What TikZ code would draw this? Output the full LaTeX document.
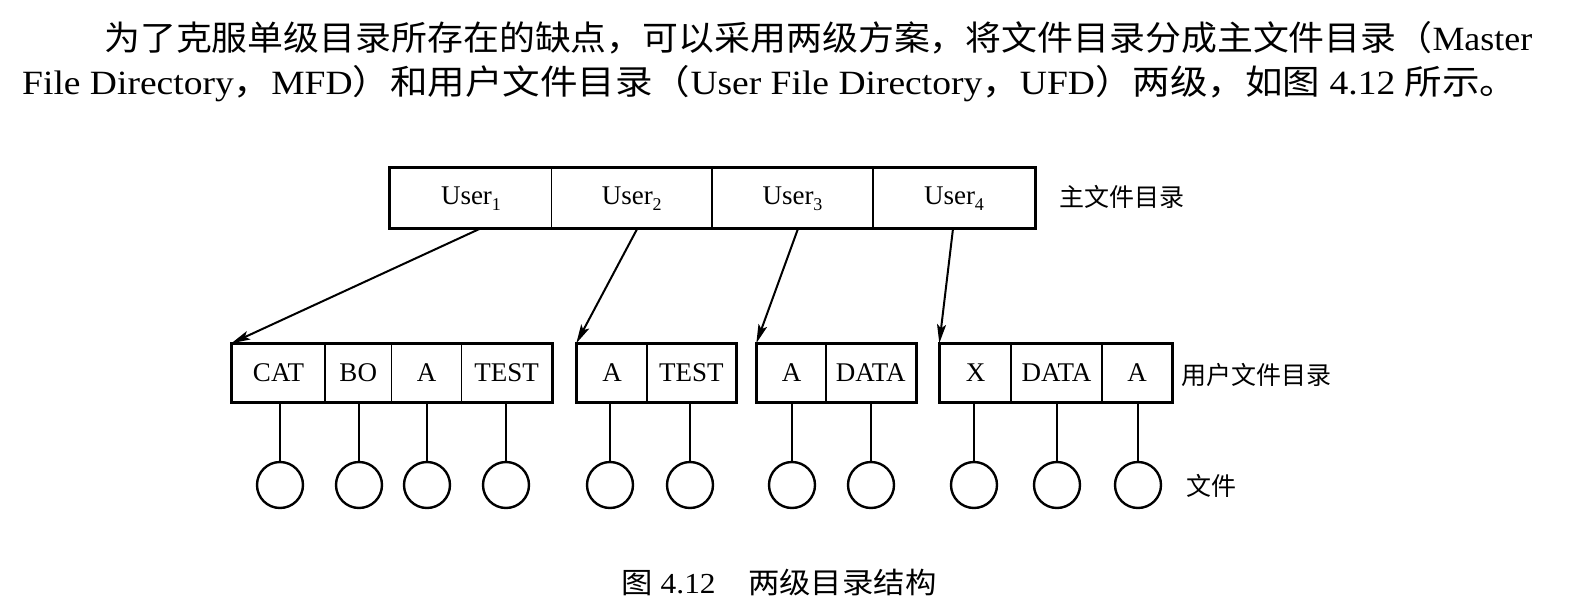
\documentclass[tikz,border=0pt]{standalone}
\usepackage{fontspec}
\setmainfont{Liberation Serif}
\newfontfamily\cjk{Noto Sans CJK SC}
\usetikzlibrary{arrows.meta,calc}
\newcommand\usub[1]{\raisebox{-6pt}{\fontsize{18}{20}\selectfont #1}}
\tikzset{
  cell/.style={draw=black, line width=1.4pt, inner sep=0pt, minimum height=58pt,
    font=\fontsize{27}{30}\selectfont},
  ucell/.style={draw=black, line width=1.4pt, inner sep=0pt, minimum height=59.5pt,
    font=\fontsize{27}{30}\selectfont},
  outer/.style={draw=black, line width=3pt},
  file/.style={circle, draw=black, line width=2.4pt, minimum size=46pt, inner sep=0pt},
  link/.style={draw=black, line width=1.8pt},
  ptr/.style={draw=black, line width=2pt, -{Stealth[length=19pt,width=9pt,inset=4pt]}},
  cjklabel/.style={anchor=west, inner sep=0pt, font=\cjk\fontsize{25}{30}\selectfont},
}
\begin{document}
\begin{tikzpicture}[x=1pt,y=-1pt]
\useasboundingbox[fill=white] (0,0) rectangle (1596,610);

% header text
\node[anchor=west, inner sep=0pt] (h1) at (104,38)
  {\fontsize{34}{40}\selectfont\resizebox{1428pt}{\height}{\cjk 为了克服单级目录所存在的缺点，可以采用两级方案，将文件目录分成主文件目录（\rmfamily Master}};
\node[anchor=west, inner sep=0pt] (h2) at (22,84)
  {\fontsize{34}{40}\selectfont\resizebox{1495pt}{\height}{File Directory{\cjk ，}MFD{\cjk ）和用户文件目录（}User File Directory{\cjk ，}UFD{\cjk ）两级，如图} 4.12 {\cjk 所示。}}};

% master file directory
\node[ucell, minimum width=161pt] (u1) at (471,198.25) {User\usub{1}};
\node[ucell, minimum width=160.5pt] (u2) at (631.75,198.25) {User\usub{2}};
\node[ucell, minimum width=161pt] (u3) at (792.5,198.25) {User\usub{3}};
\node[ucell, minimum width=162pt] (u4) at (954,198.25) {User\usub{4}};
\draw[outer] (u1.north west) rectangle (u4.south east);
\node[cjklabel] (mfd) at (1059,197) {主文件目录};

% user file directories
\node[cell, minimum width=93pt]   (a1) at (278.5,373) {CAT};
\node[cell, minimum width=66.5pt] (a2) at (358.25,373) {BO};
\node[cell, minimum width=70pt]   (a3) at (426.5,373) {A};
\node[cell, minimum width=90pt]   (a4) at (506.5,373) {TEST};
\draw[outer] (a1.north west) rectangle (a4.south east);

\node[cell, minimum width=70pt]   (b1) at (612,373) {A};
\node[cell, minimum width=88.5pt] (b2) at (691.25,373) {TEST};
\draw[outer] (b1.north west) rectangle (b2.south east);

\node[cell, minimum width=69pt]   (c1) at (791.5,373) {A};
\node[cell, minimum width=89.5pt] (c2) at (870.75,373) {DATA};
\draw[outer] (c1.north west) rectangle (c2.south east);

\node[cell, minimum width=71pt]   (d1) at (975.5,373) {X};
\node[cell, minimum width=91pt]   (d2) at (1056.5,373) {DATA};
\node[cell, minimum width=70pt]   (d3) at (1137,373) {A};
\draw[outer] (d1.north west) rectangle (d3.south east);
\node[cjklabel] (ufd) at (1181,375) {用户文件目录};

% pointers from MFD to UFDs
\coordinate (s1) at ($(u1.south)+(9,0)$);
\coordinate (s2) at ($(u2.south)+(5.5,0)$);
\coordinate (s3) at ($(u3.south)+(5.5,0)$);
\coordinate (s4) at ($(u4.south)+(-1,0)$);
\draw[ptr] (s1) -- (a1.north west);
\draw[ptr] (s2) -- (b1.north west);
\draw[ptr] (s3) -- (c1.north west);
\draw[ptr] (s4) -- (d1.north west);

% files
\foreach \n/\x/\c in {f1/280/a1, f2/359/a2, f3/427/a3, f4/506/a4,
                      f5/610/b1, f6/690/b2, f7/792/c1, f8/871/c2,
                      f9/974/d1, f10/1057/d2, f11/1138/d3}{
  \node[file] (\n) at (\x,485) {};
  \draw[link] (\n.north |- \c.south) -- (\n.north);
}
\node[cjklabel] (flabel) at (1186,486) {文件};

% caption
\node[inner sep=0pt] (cap) at (779,582)
  {\fontsize{29}{34}\selectfont\resizebox{315pt}{\height}{{\cjk 图} 4.12\hspace{30pt}{\cjk 两级目录结构}}};
\end{tikzpicture}
\end{document}
